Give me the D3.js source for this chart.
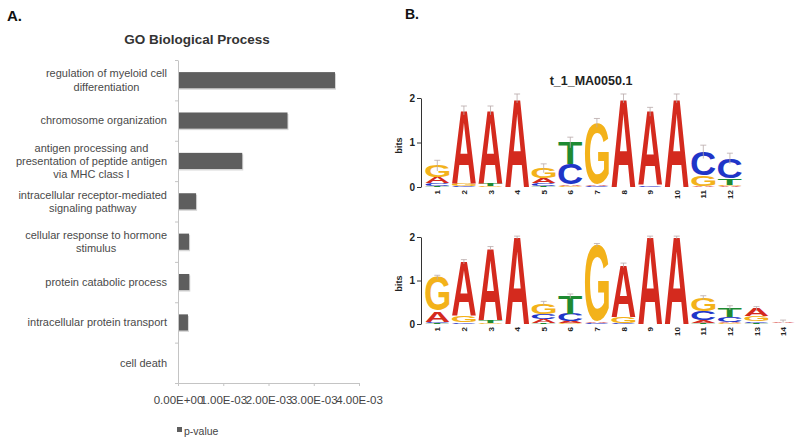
<!DOCTYPE html>
<html>
<head>
<meta charset="utf-8">
<script src="https://cdn.jsdelivr.net/npm/d3@7"></script>
<style>
  html, body { margin: 0; padding: 0; background: #fff; }
  svg { display: block; font-family: "Liberation Sans", Arial, sans-serif; }
</style>
</head>
<body>
<svg id="chart" width="800" height="442"></svg>
<script>
// ---------------- Panel A data ----------------
const categoryLines = [
  ["regulation of myeloid cell", "differentiation"],
  ["chromosome organization"],
  ["antigen processing and", "presentation of peptide antigen", "via MHC class I"],
  ["intracellular receptor-mediated", "signaling pathway"],
  ["cellular response to hormone", "stimulus"],
  ["protein catabolic process"],
  ["intracellular protein transport"],
  ["cell death"]
];
const pValues = [3.47e-3, 2.42e-3, 1.42e-3, 0.40e-3, 0.245e-3, 0.25e-3, 0.22e-3, 0];
const xTickValues = [0, 1e-3, 2e-3, 3e-3, 4e-3];
const xTickLabels = ["0.00E+00", "1.00E-03", "2.00E-03", "3.00E-03", "4.00E-03"];

// ---------------- Panel B data (bits per letter) ----------------
const logo1Positions = ["1","2","3","4","5","6","7","8","9","10","11","12"];
const logo1A = [0.15, 1.64, 1.64, 1.99, 0.12, 0.03, 0.04, 1.99, 1.65, 1.99, 0.03, 0.02];
const logo1C = [0.05, 0.02, 0.00, 0.00, 0.05, 0.46, 0.03, 0.00, 0.04, 0.00, 0.52, 0.45];
const logo1G = [0.25, 0.06, 0.02, 0.00, 0.22, 0.02, 1.37, 0.00, 0.00, 0.00, 0.24, 0.02];
const logo1T = [0.03, 0.00, 0.06, 0.00, 0.03, 0.49, 0.00, 0.00, 0.00, 0.00, 0.00, 0.15];
const logo1Err = [0.12, 0.10, 0.10, 0.10, 0.10, 0.12, 0.10, 0.10, 0.10, 0.10, 0.15, 0.12];

const logo2Positions = ["1","2","3","4","5","6","7","8","9","10","11","12","13","14"];
const logo2A = [0.25, 1.24, 1.65, 1.99, 0.08, 0.05, 0.04, 1.18, 1.99, 1.99, 0.05, 0.03, 0.17, 0.03];
const logo2C = [0.03, 0.04, 0.00, 0.00, 0.12, 0.17, 0.02, 0.03, 0.00, 0.00, 0.22, 0.12, 0.04, 0.01];
const logo2G = [0.77, 0.15, 0.02, 0.00, 0.24, 0.02, 1.75, 0.14, 0.00, 0.00, 0.30, 0.02, 0.12, 0.01];
const logo2T = [0.02, 0.00, 0.07, 0.00, 0.03, 0.40, 0.00, 0.00, 0.00, 0.00, 0.03, 0.20, 0.02, 0.01];
const logo2Err = [0.05, 0.05, 0.04, 0.03, 0.05, 0.05, 0.04, 0.05, 0.03, 0.03, 0.05, 0.05, 0.05, 0.03];

const letterColors = { A: "#d42a1e", C: "#1f35c8", G: "#f3b21a", T: "#1e8a32" };

const svg = d3.select("#chart");

// ================= PANEL A =================
svg.append("text").attr("x", 7).attr("y", 21)
  .attr("font-size", 15).attr("font-weight", "bold").attr("fill", "#111").text("A.");
svg.append("text").attr("x", 197).attr("y", 44).attr("text-anchor", "middle")
  .attr("font-size", 13.5).attr("font-weight", "bold").attr("fill", "#333").text("GO Biological Process");

const x = d3.scaleLinear().domain([0, 4e-3]).range([178, 359]);
const y = d3.scaleBand().domain(d3.range(categoryLines.length)).range([60, 383])
  .paddingInner(0.6).paddingOuter(0.3);

const axisColor = "#c4c4c4";

svg.append("g").selectAll("rect").data(pValues).join("rect")
  .attr("x", x(0) + 1).attr("y", (d, i) => y(i) + 1.5)
  .attr("width", d => Math.max(0, x(d) - x(0)))
  .attr("height", y.bandwidth()).attr("fill", "#d8d8d8");
svg.append("g").selectAll("rect").data(pValues).join("rect")
  .attr("x", x(0)).attr("y", (d, i) => y(i))
  .attr("width", d => Math.max(0, x(d) - x(0)))
  .attr("height", y.bandwidth()).attr("fill", "#5e5e5e");

const yb = d3.scaleLinear().domain([0, categoryLines.length]).range([60, 383]);
const yAxisG = svg.append("g").attr("transform", `translate(${x(0)},0)`)
  .call(d3.axisLeft(yb).tickValues(d3.range(categoryLines.length + 1)).tickFormat("").tickSize(3).tickSizeOuter(0));
yAxisG.selectAll("path,line").attr("stroke", axisColor);

const labelFont = 11;
const lineH = 13.2;
const meas = document.createElement("canvas").getContext("2d");
meas.font = `${labelFont}px "Liberation Sans", Arial, sans-serif`;
const labG = svg.append("g").attr("font-size", labelFont).attr("fill", "#4a4a4a");
categoryLines.forEach((lines, i) => {
  const maxW = d3.max(lines, l => meas.measureText(l).width);
  const cx = 167 - maxW / 2;
  const cy = y(i) + y.bandwidth() / 2;
  const y0 = cy - (lines.length - 1) * lineH / 2 + labelFont * 0.35;
  lines.forEach((l, k) => {
    labG.append("text").attr("x", cx).attr("y", y0 + k * lineH)
      .attr("text-anchor", "middle").text(l);
  });
});

const xAxisG = svg.append("g").attr("transform", "translate(0,383)")
  .call(d3.axisBottom(x).tickValues(xTickValues)
    .tickFormat((d, i) => xTickLabels[i]).tickSize(3).tickSizeOuter(0).tickPadding(10));
xAxisG.selectAll("path,line").attr("stroke", axisColor);
xAxisG.selectAll("text").attr("font-size", 11.5).attr("fill", "#444")
  .attr("font-family", '"Liberation Sans", Arial, sans-serif');

svg.append("rect").attr("x", 177).attr("y", 427).attr("width", 5).attr("height", 5).attr("fill", "#5e5e5e");
svg.append("text").attr("x", 184).attr("y", 435).attr("font-size", 10.5).attr("fill", "#444").text("p-value");

// ================= PANEL B =================
svg.append("text").attr("x", 405).attr("y", 19)
  .attr("font-size", 14).attr("font-weight", "bold").attr("fill", "#111").text("B.");

const gctx = document.createElement("canvas").getContext("2d");
gctx.font = 'bold 100px "Liberation Sans", Arial, sans-serif';
const glyph = {};
["A", "C", "G", "T"].forEach(L => {
  const m = gctx.measureText(L);
  glyph[L] = { l: m.actualBoundingBoxLeft, r: m.actualBoundingBoxRight,
               a: m.actualBoundingBoxAscent, d: m.actualBoundingBoxDescent };
});

function drawLogo(cfg) {
  const g = svg.append("g");
  const xs = d3.scaleBand().domain(cfg.positions).range([424, 424 + cfg.positions.length * 26.6])
    .paddingInner(0.1).paddingOuter(0.05);
  const ys = d3.scaleLinear().domain([0, 2]).range([cfg.y0, cfg.y2]);

  const ax = g.append("g").attr("transform", "translate(421,0)")
    .call(d3.axisLeft(ys).tickValues([0, 1, 2]).tickFormat(d3.format("d")).tickSize(4).tickSizeOuter(0).tickPadding(2));
  ax.selectAll("path,line").attr("stroke", "#333").attr("stroke-width", 1);
  ax.selectAll("text").attr("font-size", 10).attr("font-weight", "bold").attr("fill", "#222")
    .attr("font-family", '"Liberation Sans", Arial, sans-serif');
  g.append("text").attr("transform", `translate(402,${(cfg.y0 + cfg.y2) / 2 + 3}) rotate(-90)`)
    .attr("text-anchor", "middle").attr("font-size", 9).attr("font-weight", "bold").attr("fill", "#222").text("bits");

  cfg.positions.forEach((p, i) => {
    const items = ["A", "C", "G", "T"].map(L => ({ L, h: cfg.vals[L][i] }))
      .filter(d => d.h > 0.004).sort((a, b) => a.h - b.h);
    let base = 0;
    const x0 = xs(p), w = xs.bandwidth();
    items.forEach(it => {
      const yb0 = ys(base), yt = ys(base + it.h);
      const hpx = yb0 - yt;
      const gm = glyph[it.L];
      const sx = w / (gm.l + gm.r), sy = hpx / (gm.a + gm.d);
      g.append("text")
        .attr("transform", `translate(${x0 + gm.l * sx},${yb0 - gm.d * sy}) scale(${sx},${sy})`)
        .attr("font-size", 100).attr("font-weight", "bold").attr("fill", letterColors[it.L])
        .text(it.L);
      base += it.h;
    });
    const e = cfg.err[i], cx = x0 + w / 2;
    const eg = g.append("g").attr("stroke", "#b9a9a9").attr("stroke-width", 0.8);
    eg.append("line").attr("x1", cx).attr("x2", cx).attr("y1", ys(base - e)).attr("y2", ys(base + e));
    eg.append("line").attr("x1", cx - 3).attr("x2", cx + 3).attr("y1", ys(base + e)).attr("y2", ys(base + e));
    g.append("text")
      .attr("transform", `translate(${cx + 3},${cfg.y0 + 3}) rotate(-90)`)
      .attr("text-anchor", "end").attr("font-size", 8).attr("font-weight", "bold").attr("fill", "#222")
      .text(p);
  });

  if (cfg.title) {
    g.append("text").attr("x", 591).attr("y", 85).attr("text-anchor", "middle")
      .attr("font-size", 12.5).attr("font-weight", "bold").attr("fill", "#222").text(cfg.title);
  }
}

drawLogo({ positions: logo1Positions, vals: { A: logo1A, C: logo1C, G: logo1G, T: logo1T },
           err: logo1Err, y0: 187, y2: 98, title: "t_1_MA0050.1" });
drawLogo({ positions: logo2Positions, vals: { A: logo2A, C: logo2C, G: logo2G, T: logo2T },
           err: logo2Err, y0: 324, y2: 237, title: null });
</script>
</body>
</html>
